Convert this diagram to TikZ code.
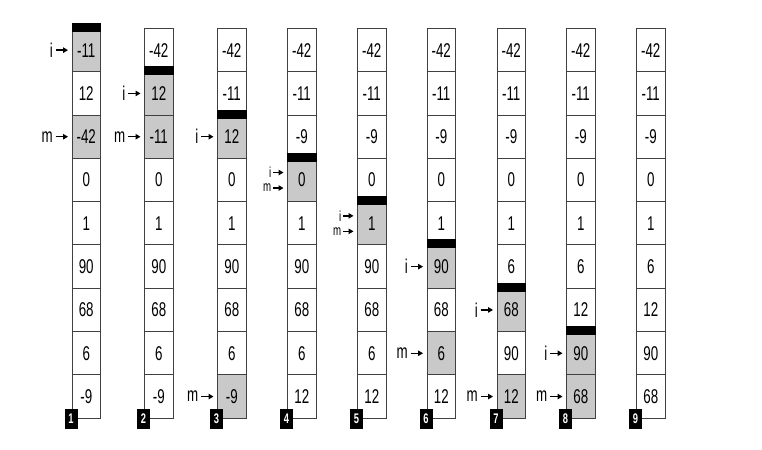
\documentclass[tikz,border=0pt]{standalone}
\usepackage{fontspec}
\setmainfont{Liberation Sans}[FakeStretch=0.67]
\usepackage{tikz}
\usetikzlibrary{arrows.meta, positioning}

\colorlet{plain}{white}
\colorlet{active}{black!21}

\begin{document}
\begin{tikzpicture}[x=1bp, y=-1bp, font=\fontsize{20}{20}\selectfont]
		\tikzstyle{cell} = [rectangle, draw=black!75, line width=1bp, minimum width=28.5bp, minimum height=43.3bp, inner sep=0pt, anchor=north west]
		
		\tikzstyle{bar} = [fill=black]
		
		\tikzstyle{pointer} = [inner sep=1.5bp]
		
		\tikzstyle{small pointer} = [inner sep=0.5bp, font=\fontsize{14.5}{14.5}\selectfont]
		
		\tikzstyle{stepno} = [rectangle, fill=black, text=white, minimum width=13bp, minimum height=20bp, inner sep=0pt, font=\fontsize{14}{14}\selectfont\bfseries]
		
		\tikzstyle{arrow} = [-{Triangle[length=5bp,width=5.5bp]}, line width=1.4bp, shorten >=3.5bp, shorten <=1bp]
		
		\useasboundingbox (0,0) rectangle (762,450);
		
		% Columns, one per step
		\foreach \v/\s [count=\r] in {-11/active,12/plain,-42/active,0/plain,1/plain,90/plain,68/plain,6/plain,-9/plain}
			\node (c1-\r) [cell, fill=\s] at (71.5,{28+(\r-1)*43.3}) {\v};
		\foreach \v/\s [count=\r] in {-42/plain,12/active,-11/active,0/plain,1/plain,90/plain,68/plain,6/plain,-9/plain}
			\node (c2-\r) [cell, fill=\s] at (144,{28+(\r-1)*43.3}) {\v};
		\foreach \v/\s [count=\r] in {-42/plain,-11/plain,12/active,0/plain,1/plain,90/plain,68/plain,6/plain,-9/active}
			\node (c3-\r) [cell, fill=\s] at (217,{28+(\r-1)*43.3}) {\v};
		\foreach \v/\s [count=\r] in {-42/plain,-11/plain,-9/plain,0/active,1/plain,90/plain,68/plain,6/plain,12/plain}
			\node (c4-\r) [cell, fill=\s] at (287,{28+(\r-1)*43.3}) {\v};
		\foreach \v/\s [count=\r] in {-42/plain,-11/plain,-9/plain,0/plain,1/active,90/plain,68/plain,6/plain,12/plain}
			\node (c5-\r) [cell, fill=\s] at (357,{28+(\r-1)*43.3}) {\v};
		\foreach \v/\s [count=\r] in {-42/plain,-11/plain,-9/plain,0/plain,1/plain,90/active,68/plain,6/active,12/plain}
			\node (c6-\r) [cell, fill=\s] at (426.5,{28+(\r-1)*43.3}) {\v};
		\foreach \v/\s [count=\r] in {-42/plain,-11/plain,-9/plain,0/plain,1/plain,6/plain,68/active,90/plain,12/active}
			\node (c7-\r) [cell, fill=\s] at (496.5,{28+(\r-1)*43.3}) {\v};
		\foreach \v/\s [count=\r] in {-42/plain,-11/plain,-9/plain,0/plain,1/plain,6/plain,12/plain,90/active,68/active}
			\node (c8-\r) [cell, fill=\s] at (566,{28+(\r-1)*43.3}) {\v};
		\foreach \v/\s [count=\r] in {-42/plain,-11/plain,-9/plain,0/plain,1/plain,6/plain,12/plain,90/plain,68/plain}
			\node (c9-\r) [cell, fill=\s] at (636,{28+(\r-1)*43.3}) {\v};
		
		% Sorted boundary bars
		\foreach \c in {1,...,8}
			\fill [bar] ([yshift=5bp]c\c-\c.north west) rectangle ([yshift=-4bp]c\c-\c.north east);
		
		% Step numbers
		\foreach \c in {1,...,9}
			\node (n\c) [stepno] at ([xshift=-0.5bp]c\c-9.south west) {\c};
		
		% Pointers i and m
		\foreach \c/\ri/\rm in {1/1/3, 2/2/3, 3/3/9, 6/6/8, 7/7/9, 8/8/9} {
			\node (i\c) [pointer, left=17bp of c\c-\ri] {i};
			\node (m\c) [pointer, left=17bp of c\c-\rm] {m};
			\draw [arrow] (i\c.east) -- (c\c-\ri.west);
			\draw [arrow] (m\c.east) -- (c\c-\rm.west);
		}
		\foreach \c in {4,5} {
			\node (i\c) [small pointer, left=15bp of c\c-\c, yshift=7.5bp] {i};
			\node (m\c) [small pointer, left=15bp of c\c-\c, yshift=-8bp] {m};
			\draw [arrow] (i\c.east) -- (i\c.east -| c\c-\c.west);
			\draw [arrow] (m\c.east) -- (m\c.east -| c\c-\c.west);
		}
		
\end{tikzpicture}
\end{document}
